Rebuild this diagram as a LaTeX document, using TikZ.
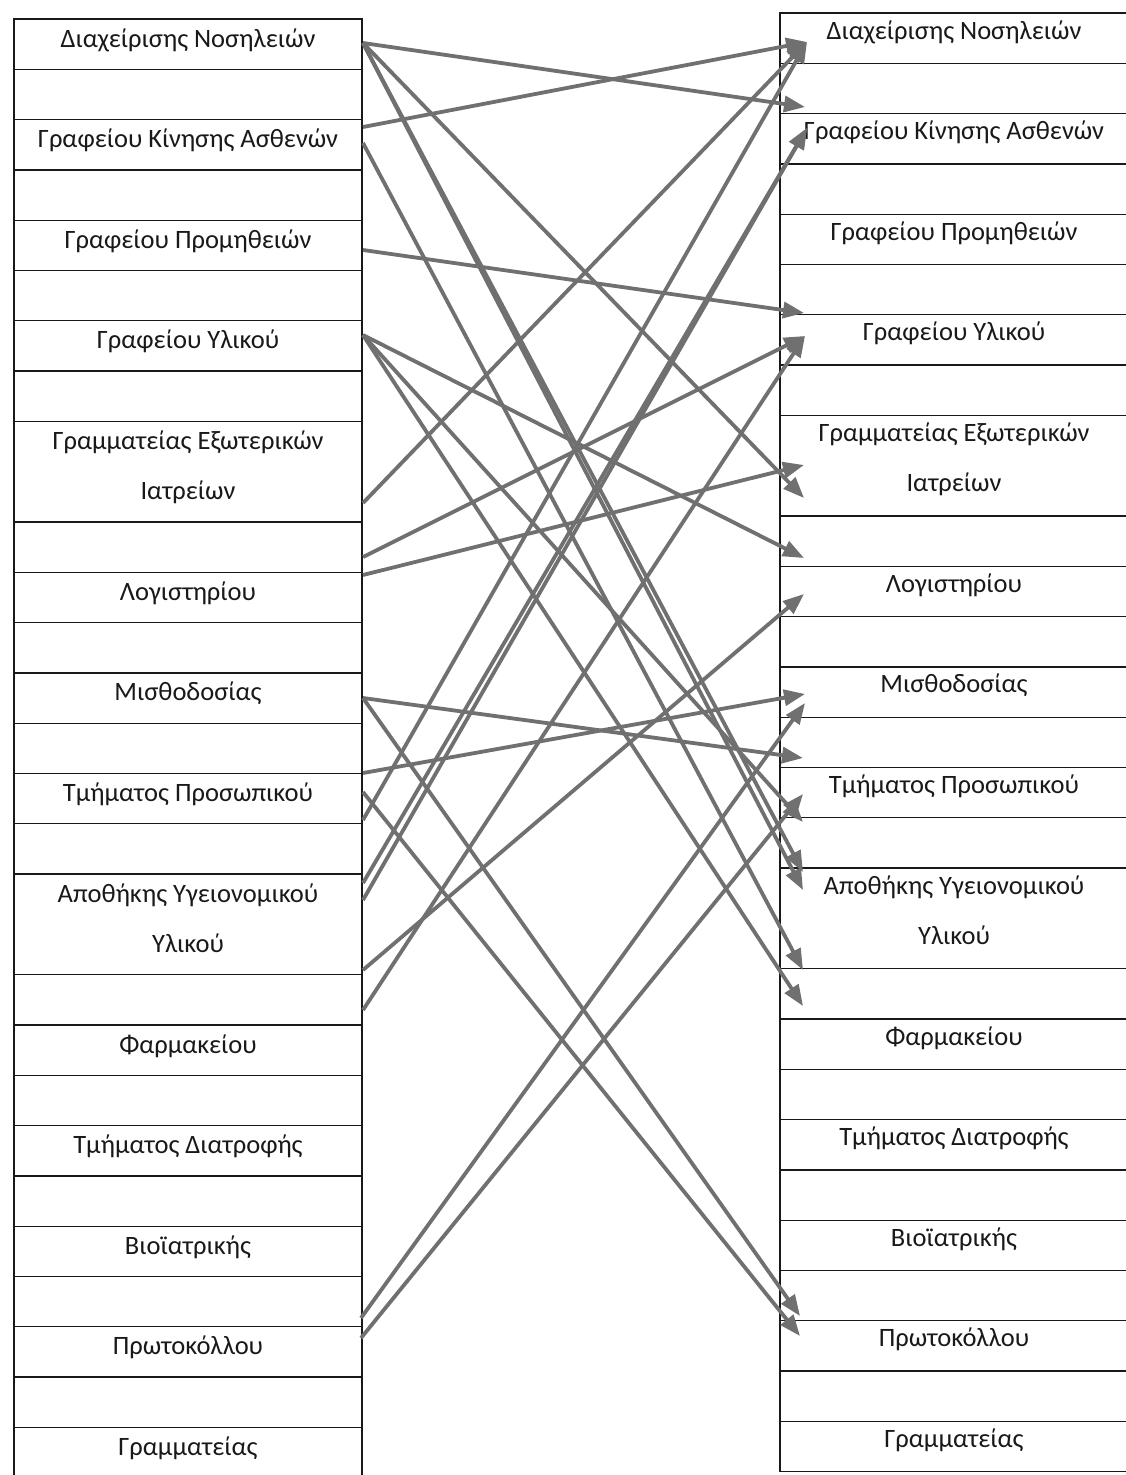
\documentclass[tikz,border=0pt]{standalone}
\usepackage{fontspec}
\setmainfont{Carlito}
\usetikzlibrary{arrows.meta}
\definecolor{rule}{RGB}{25,25,25}
\definecolor{linkgray}{RGB}{112,112,112}
\begin{document}
\begin{tikzpicture}[x=1pt,y=-1pt,
  cell/.style={draw=rule,line width=1.3pt,minimum width=348pt,inner sep=0pt,outer sep=0pt,anchor=north west},
  lbl/.style={anchor=base,font=\fontsize{26.5}{30}\selectfont,text=rule,inner sep=0pt},
  link/.style={draw=linkgray,line width=3.8pt,-{Triangle[length=21pt,width=16pt]}}]
\useasboundingbox[fill=white] (0,0) rectangle (1125,1475);

% left column: first row / number of rows
\foreach \r/\s in {0/1,1/1,2/1,3/1,4/1,5/1,6/1,7/1,8/2,10/1,11/1,12/1,13/1,14/1,15/1,16/1,17/2,19/1,20/1,21/1,22/1,23/1,24/1,25/1,26/1,27/1,28/1}
  \node[cell,minimum height={\s*50.3pt}] (L\r) at (14,{19+50.3*\r}) {};
% right column
\foreach \r/\s in {0/1,1/1,2/1,3/1,4/1,5/1,6/1,7/1,8/2,10/1,11/1,12/1,13/1,14/1,15/1,16/1,17/2,19/1,20/1,21/1,22/1,23/1,24/1,25/1,26/1,27/1,28/1}
  \node[cell,minimum height={\s*50.3pt}] (R\r) at (780,{13+50.3*\r}) {};

% department names
\foreach \r/\t in {0/Διαχείρισης Νοσηλειών,2/Γραφείου Κίνησης Ασθενών,4/Γραφείου Προμηθειών,6/Γραφείου Υλικού,8/Γραμματείας Εξωτερικών,9/Ιατρείων,11/Λογιστηρίου,13/Μισθοδοσίας,15/Τμήματος Προσωπικού,17/Αποθήκης Υγειονομικού,18/Υλικού,20/Φαρμακείου,22/Τμήματος Διατροφής,24/Βιοϊατρικής,26/Πρωτοκόλλου,28/Γραμματείας}
  {\node[lbl] (LT\r) at (188,{19+50.3*\r+28}) {\t};
   \node[lbl] (RT\r) at (954,{13+50.3*\r+26}) {\t};}

% link end points on the left column
\coordinate (o43) at (363,43);
\coordinate (o127) at (363,127);
\coordinate (o143) at (363,143);
\coordinate (o250) at (363,250);
\coordinate (o335) at (363,335);
\coordinate (o503) at (363,503);
\coordinate (o557) at (363,557);
\coordinate (o575) at (363,575);
\coordinate (o698) at (363,698);
\coordinate (o773) at (363,773);
\coordinate (o792) at (363,792);
\coordinate (o820) at (363,820);
\coordinate (o883) at (363,883);
\coordinate (o900) at (363,900);
\coordinate (o970) at (363,970);
\coordinate (o1010) at (363,1010);
\coordinate (o1318) at (361,1318);
\coordinate (o1338) at (361,1338);
% link end points on the right column
\coordinate (i42) at (807,42);
\coordinate (i107) at (805,107);
\coordinate (i128) at (807,128);
\coordinate (i313) at (804,313);
\coordinate (i336) at (805,336);
\coordinate (i465) at (804,465);
\coordinate (i498) at (804,498);
\coordinate (i558) at (804,558);
\coordinate (i594) at (804,594);
\coordinate (i695) at (805,694);
\coordinate (i703) at (805,703);
\coordinate (i758) at (803,758);
\coordinate (i794) at (803,794);
\coordinate (i822) at (803,822);
\coordinate (i872) at (803,872);
\coordinate (i890) at (803,890);
\coordinate (i970) at (803,970);
\coordinate (i1006) at (803,1006);
\coordinate (i1316) at (800,1316);
\coordinate (i1336) at (800,1336);

% links
\draw[link] (o43) -- (i107);
\draw[link] (o43) -- (i498);
\draw[link] (o43) -- (i872);
\draw[link] (o43) -- (i890);
\draw[link] (o127) -- (i42);
\draw[link] (o143) -- (i970);
\draw[link] (o250) -- (i313);
\draw[link] (o335) -- (i558);
\draw[link] (o335) -- (i822);
\draw[link] (o335) -- (i1006);
\draw[link] (o503) -- (i42);
\draw[link] (o557) -- (i336);
\draw[link] (o575) -- (i465);
\draw[link] (o698) -- (i758);
\draw[link] (o698) -- (i1316);
\draw[link] (o773) -- (i695);
\draw[link] (o792) -- (i1336);
\draw[link] (o820) -- (i42);
\draw[link] (o883) -- (i128);
\draw[link] (o900) -- (i128);
\draw[link] (o970) -- (i594);
\draw[link] (o1010) -- (i336);
\draw[link] (o1318) -- (i703);
\draw[link] (o1338) -- (i794);
\end{tikzpicture}
\end{document}
